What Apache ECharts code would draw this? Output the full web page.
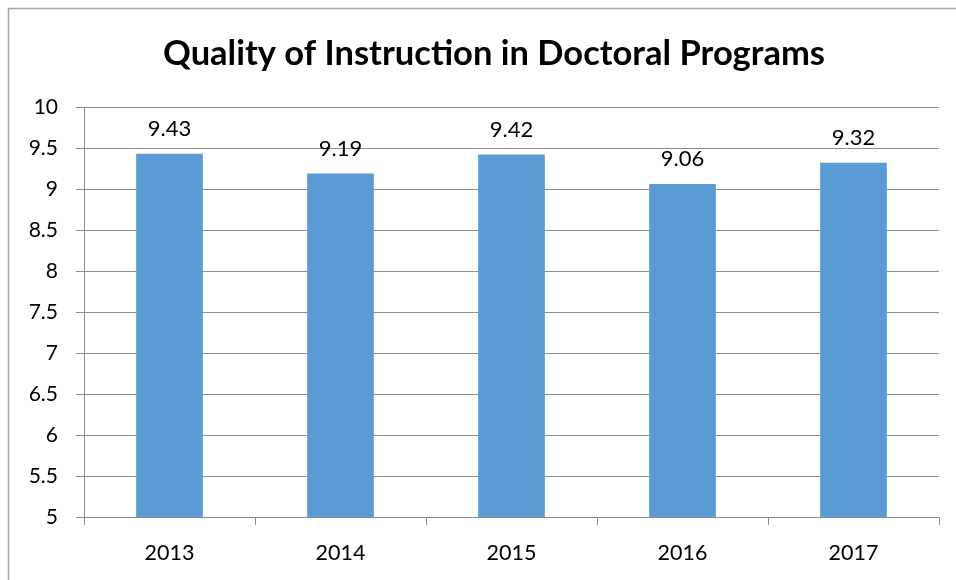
<!DOCTYPE html>
<html><head><meta charset="utf-8">
<script src="https://cdn.jsdelivr.net/npm/echarts@6/dist/echarts.min.js"></script>
<style>html,body{margin:0;padding:0;background:#fff}#c{width:956px;height:580px}</style>
</head><body><div id="c"></div>
<script>
const categories = ['2013', '2014', '2015', '2016', '2017'];
const values = [9.43, 9.19, 9.42, 9.06, 9.32];
const title = 'Quality of Instruction in Doctoral Programs';
const FONT = 'Lato, "Open Sans", sans-serif';
const chart = echarts.init(document.getElementById('c'));
chart.setOption({
  animation: false,
  backgroundColor: '#fff',
  title: { text: title, left: 489, top: 31, textAlign: 'center',
    textStyle: { fontFamily: FONT, fontSize: 34.5, fontWeight: 'bold', color: '#000' } },
  graphic: [{ type: 'rect', shape: { x: 8.5, y: 8.5, width: 1000, height: 1000 },
    style: { fill: 'none', stroke: '#a6a6a6', lineWidth: 1.5 }, silent: true }],
  grid: { left: 84, right: 17, top: 107, bottom: 63 },
  xAxis: { type: 'category', data: categories,
    axisLine: { lineStyle: { color: '#8c8c8c', width: 1 } },
    axisTick: { show: true, length: 8, alignWithLabel: false, lineStyle: { color: '#8c8c8c' } },
    axisLabel: { fontFamily: FONT, fontSize: 21.5, color: '#000', margin: 25 } },
  yAxis: { type: 'value', min: 5, max: 10, interval: 0.5,
    axisLine: { show: true, lineStyle: { color: '#8c8c8c', width: 1 } },
    axisTick: { show: true, length: 8, lineStyle: { color: '#8c8c8c' } },
    splitLine: { lineStyle: { color: '#8c8c8c', width: 1 } },
    axisLabel: { fontFamily: FONT, fontSize: 21, color: '#000', margin: 26 } },
  series: [{ type: 'bar', data: values, barWidth: '39%',
    itemStyle: { color: '#5b9bd5' },
    label: { show: true, position: 'top', distance: 14, fontFamily: FONT, fontSize: 22, color: '#000',
      formatter: p => p.value.toFixed(2) } }]
});
</script></body></html>
